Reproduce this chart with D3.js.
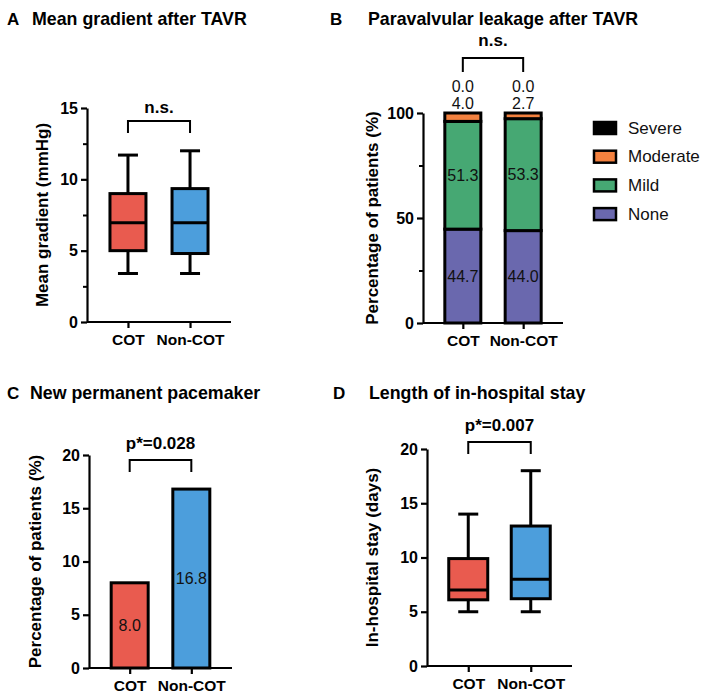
<!DOCTYPE html>
<html><head><meta charset="utf-8">
<script src="https://cdn.jsdelivr.net/npm/d3@7"></script>
<style>
body{margin:0;background:#fff;}
svg{display:block;font-family:"Liberation Sans",Arial,Helvetica,sans-serif;}
</style></head>
<body><svg id="c" width="704" height="697"></svg>
<script>
// ---------- data ----------
const groups = ["COT", "Non-COT"];
// Panel A: mean gradient (mmHg) box plots [min, q1, median, q3, max]
const gradientMin = [3.4, 3.4];
const gradientQ1 = [5.0, 4.8];
const gradientMedian = [6.95, 6.95];
const gradientQ3 = [9.0, 9.35];
const gradientMax = [11.7, 12.0];
const gradientTicks = [0, 5, 10, 15];
const gradientMinorTicks = [2.5, 7.5, 12.5];
// Panel B: paravalvular leakage (%)
const leakCategories = ["None", "Mild", "Moderate", "Severe"];
const leakNone = [44.7, 44.0];
const leakMild = [51.3, 53.3];
const leakModerate = [4.0, 2.7];
const leakSevere = [0.0, 0.0];
const leakTicks = [0, 50, 100];
const leakMinorTicks = [25, 75];
// Panel C: new permanent pacemaker (%)
const pacemaker = [8.0, 16.8];
const pacemakerTicks = [0, 5, 10, 15, 20];
// Panel D: in-hospital stay (days)
const stayMin = [5, 5];
const stayQ1 = [6.1, 6.2];
const stayMedian = [7, 8];
const stayQ3 = [9.9, 12.9];
const stayMax = [14, 18];
const stayTicks = [0, 5, 10, 15, 20];

// ---------- styles ----------
const RED = "#E95B4F", BLUE = "#4C9EDC";
const leakColors = {None: "#6A68AE", Mild: "#46A873", Moderate: "#F3813F", Severe: "#000000"};
const svg = d3.select("#c");

function panelAxes(o) {
  const y = d3.scaleLinear().domain(o.ydom).range([o.y0, o.y1]);
  const x = d3.scalePoint().domain(groups).range([o.ax, o.axEnd]).padding(0.66);
  const g = svg.append("g");
  if (o.minor) {
    const am = g.append("g").attr("transform", `translate(${o.ax},0)`)
      .call(d3.axisLeft(y).tickValues(o.minor).tickSize(4).tickSizeOuter(0).tickFormat(""));
    am.select(".domain").remove();
    am.selectAll("line").attr("stroke", "#000").attr("stroke-width", 2);
  }
  const ay = g.append("g").attr("transform", `translate(${o.ax},0)`)
    .call(d3.axisLeft(y).tickValues(o.ticks).tickSize(6).tickSizeOuter(0).tickPadding(3));
  ay.select(".domain").attr("stroke-width", 2.2);
  ay.selectAll("line").attr("stroke-width", 2.2);
  ay.selectAll("text").attr("font-size", 16).attr("font-weight", "bold").attr("fill", "#000")
    .attr("font-family", "Liberation Sans, Arial, sans-serif");
  const ax = g.append("g").attr("transform", `translate(0,${o.y0})`)
    .call(d3.axisBottom(x).tickSize(6).tickSizeOuter(0).tickPadding(6));
  ax.select(".domain").attr("stroke-width", 2.2).attr("d", `M${o.ax},0H${o.axEnd}`);
  ax.selectAll("line").attr("stroke-width", 2.2);
  ax.selectAll("text").attr("font-size", 15.5).attr("font-weight", "bold").attr("fill", "#000")
    .attr("font-family", "Liberation Sans, Arial, sans-serif");
  g.append("text").attr("transform", `translate(${o.ytx},${(o.y0 + o.y1) / 2}) rotate(-90)`)
    .attr("text-anchor", "middle").attr("dominant-baseline", "central")
    .attr("font-size", 17).attr("font-weight", "bold").text(o.ytitle);
  g.append("text").attr("x", o.lx).attr("y", o.ty).attr("font-size", 17).attr("font-weight", "bold").text(o.letter);
  g.append("text").attr("x", o.tx).attr("y", o.ty).attr("font-size", 17.8).attr("font-weight", "bold").text(o.title);
  return {x, y, g};
}

function bracket(g, x, yTop, yEnd, label, labelY) {
  const x1 = x(groups[0]), x2 = x(groups[1]);
  g.append("path").attr("d", `M${x1},${yEnd}V${yTop}H${x2}V${yEnd}`)
    .attr("fill", "none").attr("stroke", "#000").attr("stroke-width", 2);
  g.append("text").attr("x", (x1 + x2) / 2).attr("y", labelY).attr("text-anchor", "middle")
    .attr("font-size", 17).attr("font-weight", "bold").text(label);
}

function boxes(p, mins, q1s, meds, q3s, maxs, bw, cw) {
  const {x, y, g} = p;
  groups.forEach((k, i) => {
    const cx = x(k);
    const col = i === 0 ? RED : BLUE;
    const bg = g.append("g").attr("stroke", "#000").attr("stroke-width", 3);
    bg.append("line").attr("x1", cx).attr("x2", cx).attr("y1", y(maxs[i])).attr("y2", y(q3s[i]));
    bg.append("line").attr("x1", cx).attr("x2", cx).attr("y1", y(q1s[i])).attr("y2", y(mins[i]));
    bg.append("line").attr("x1", cx - cw / 2).attr("x2", cx + cw / 2).attr("y1", y(maxs[i])).attr("y2", y(maxs[i]));
    bg.append("line").attr("x1", cx - cw / 2).attr("x2", cx + cw / 2).attr("y1", y(mins[i])).attr("y2", y(mins[i]));
    bg.append("rect").attr("x", cx - bw / 2).attr("width", bw).attr("y", y(q3s[i]))
      .attr("height", y(q1s[i]) - y(q3s[i])).attr("fill", col);
    bg.append("line").attr("x1", cx - bw / 2).attr("x2", cx + bw / 2).attr("y1", y(meds[i])).attr("y2", y(meds[i]));
  });
}

// ---------- Panel A ----------
const pA = panelAxes({ydom: [0, 15], y0: 322, y1: 108, ax: 87, axEnd: 231, ticks: gradientTicks,
  minor: gradientMinorTicks, ytx: 42, ytitle: "Mean gradient (mmHg)", letter: "A", lx: 7, tx: 32, ty: 25,
  title: "Mean gradient after TAVR"});
boxes(pA, gradientMin, gradientQ1, gradientMedian, gradientQ3, gradientMax, 36, 20);
bracket(pA.g, pA.x, 121, 133, "n.s.", 113);

// ---------- Panel B ----------
const pB = panelAxes({ydom: [0, 100], y0: 323, y1: 113, ax: 423, axEnd: 563, ticks: leakTicks,
  minor: leakMinorTicks, ytx: 372, ytitle: "Percentage of patients (%)", letter: "B", lx: 330, tx: 368, ty: 25,
  title: "Paravalvular leakage after TAVR"});
{
  const {x, y, g} = pB;
  const rows = groups.map((k, i) => ({group: k, None: leakNone[i], Mild: leakMild[i], Moderate: leakModerate[i], Severe: leakSevere[i]}));
  const stack = d3.stack().keys(leakCategories)(rows);
  const bw = 36;
  stack.forEach(s => {
    g.append("g").selectAll("rect").data(s.filter(d => d[1] - d[0] > 0)).join("rect")
      .attr("x", d => x(d.data.group) - bw / 2).attr("width", bw)
      .attr("y", d => y(d[1])).attr("height", d => y(d[0]) - y(d[1]))
      .attr("fill", leakColors[s.key]).attr("stroke", "#000").attr("stroke-width", 3);
  });
  ["None", "Mild"].forEach(key => {
    const s = stack.find(t => t.key === key);
    g.append("g").selectAll("text").data(s).join("text")
      .attr("x", d => x(d.data.group)).attr("y", d => y((d[0] + d[1]) / 2))
      .attr("text-anchor", "middle").attr("dominant-baseline", "central").attr("font-size", 16)
      .attr("fill", "#111").text(d => d3.format(".1f")(d[1] - d[0]));
  });
  groups.forEach((k, i) => {
    g.append("text").attr("x", x(k)).attr("y", y(100) - 10).attr("text-anchor", "middle")
      .attr("dominant-baseline", "central").attr("font-size", 16).attr("fill", "#111").text(d3.format(".1f")(leakModerate[i]));
    g.append("text").attr("x", x(k)).attr("y", y(100) - 27).attr("text-anchor", "middle")
      .attr("dominant-baseline", "central").attr("font-size", 16).attr("fill", "#111").text(d3.format(".1f")(leakSevere[i]));
  });
  bracket(g, x, 58, 72, "n.s.", 46);
  const leg = g.append("g");
  const legOrder = leakCategories.slice().reverse();
  legOrder.forEach((key, i) => {
    const yy = 128 + i * 28.7;
    leg.append("rect").attr("x", 594).attr("y", yy - 6).attr("width", 22).attr("height", 12)
      .attr("fill", leakColors[key]).attr("stroke", "#000").attr("stroke-width", 2.5);
    leg.append("text").attr("x", 628).attr("y", yy).attr("dominant-baseline", "central")
      .attr("font-size", 17).attr("fill", "#111").text(key);
  });
}

// ---------- Panel C ----------
const pC = panelAxes({ydom: [0, 20], y0: 668, y1: 455, ax: 89, axEnd: 232, ticks: pacemakerTicks,
  minor: null, ytx: 35, ytitle: "Percentage of patients (%)", letter: "C", lx: 7, tx: 30, ty: 399,
  title: "New permanent pacemaker"});
{
  const {x, y, g} = pC;
  const bw = 37;
  g.append("g").selectAll("rect").data(groups).join("rect")
    .attr("x", k => x(k) - bw / 2).attr("width", bw)
    .attr("y", (k, i) => y(pacemaker[i])).attr("height", (k, i) => y(0) - y(pacemaker[i]))
    .attr("fill", (k, i) => i === 0 ? RED : BLUE).attr("stroke", "#000").attr("stroke-width", 3);
  g.append("g").selectAll("text").data(groups).join("text")
    .attr("x", k => x(k)).attr("y", (k, i) => y(pacemaker[i] / 2))
    .attr("text-anchor", "middle").attr("dominant-baseline", "central").attr("font-size", 16)
    .attr("fill", "#111").text((k, i) => d3.format(".1f")(pacemaker[i]));
  bracket(g, x, 460, 472, "p*=0.028", 449);
}

// ---------- Panel D ----------
const pD = panelAxes({ydom: [0, 20], y0: 666, y1: 449, ax: 427, axEnd: 572, ticks: stayTicks,
  minor: null, ytx: 372, ytitle: "In-hospital stay (days)", letter: "D", lx: 333, tx: 369, ty: 399,
  title: "Length of in-hospital stay"});
boxes(pD, stayMin, stayQ1, stayMedian, stayQ3, stayMax, 39, 20);
bracket(pD.g, pD.x, 442, 454, "p*=0.007", 431);
</script></body></html>
